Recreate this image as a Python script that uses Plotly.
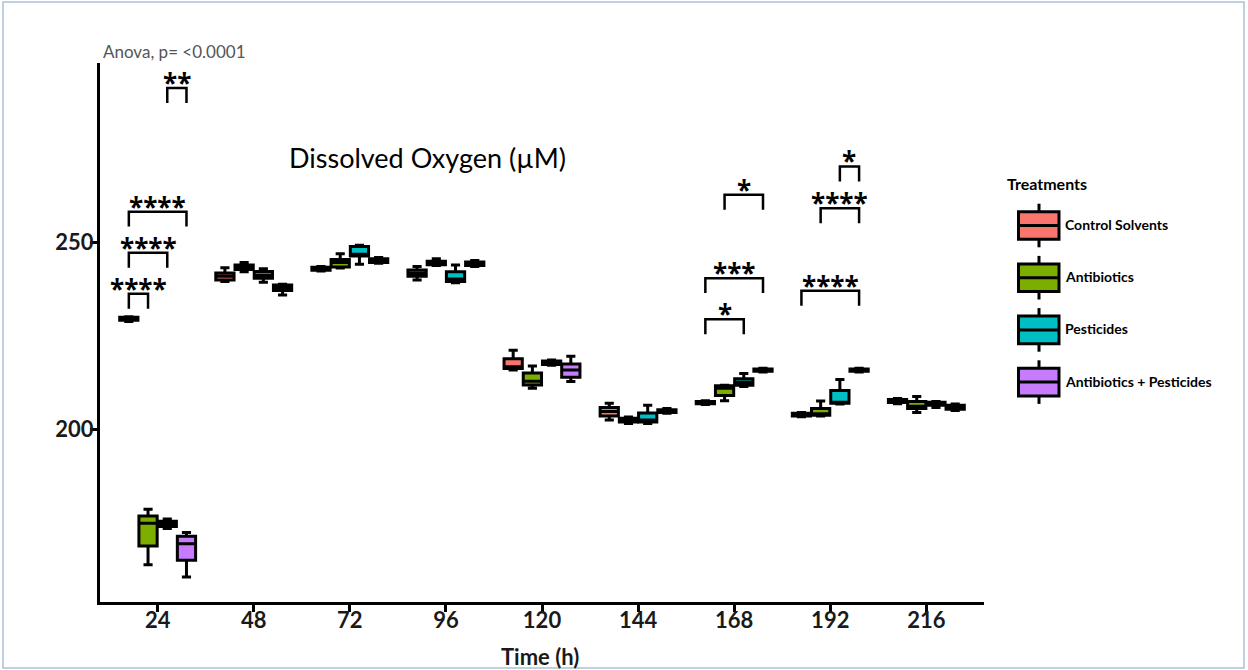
import plotly.graph_objects as go

# ---------------- data ----------------
times = ["24", "48", "72", "96", "120", "144", "168", "192", "216"]
treatments = ["Control Solvents", "Antibiotics", "Pesticides", "Antibiotics + Pesticides"]
colors = ["#F8766D", "#7CAE00", "#00BFC4", "#C77CFF"]

control_q1 = [229.2, 240.0, 242.6, 241.0, 216.3, 203.6, 206.9, 203.6, 207.2]
control_med = [229.6, 241.0, 243.0, 241.8, 216.8, 204.8, 207.2, 204.0, 207.6]
control_q3 = [230.0, 241.9, 243.4, 242.7, 218.9, 205.9, 207.5, 204.3, 208.0]
control_lo = [228.9, 239.6, 242.4, 240.0, 215.9, 202.5, 206.7, 203.4, 206.9]
control_hi = [230.2, 243.3, 243.6, 243.6, 221.2, 207.0, 207.7, 204.5, 208.3]

antib_q1 = [168.8, 242.8, 243.5, 244.1, 211.9, 202.0, 209.1, 203.8, 205.6]
antib_med = [174.9, 243.4, 244.7, 244.5, 212.9, 202.5, 211.0, 204.2, 206.2]
antib_q3 = [176.8, 244.0, 245.5, 245.0, 215.1, 203.0, 211.7, 205.6, 207.5]
antib_lo = [163.8, 242.2, 243.2, 243.9, 211.0, 201.6, 207.7, 203.6, 204.5]
antib_hi = [178.6, 244.7, 247.0, 245.7, 217.0, 203.3, 211.8, 207.6, 208.8]

pest_q1 = [174.0, 240.5, 246.4, 239.6, 217.4, 202.0, 211.8, 207.0, 206.5]
pest_med = [174.7, 241.3, 246.9, 240.3, 217.8, 202.5, 212.6, 207.3, 206.9]
pest_q3 = [175.4, 242.3, 249.0, 242.2, 218.3, 204.4, 213.6, 210.4, 207.3]
pest_lo = [173.5, 239.4, 244.2, 239.3, 217.2, 201.6, 211.5, 206.8, 205.9]
pest_hi = [176.0, 243.0, 249.3, 244.0, 218.6, 206.5, 215.0, 213.4, 207.5]

ap_q1 = [165.0, 237.2, 244.7, 243.9, 214.0, 204.5, 215.6, 215.6, 205.4]
ap_med = [169.4, 238.0, 245.2, 244.3, 215.9, 204.9, 215.9, 215.9, 206.0]
ap_q3 = [171.4, 238.7, 245.7, 244.8, 217.5, 205.3, 216.2, 216.2, 206.5]
ap_lo = [160.5, 236.0, 244.5, 243.6, 212.8, 204.3, 215.4, 215.4, 205.1]
ap_hi = [172.4, 238.9, 246.0, 245.2, 219.6, 205.6, 216.4, 216.4, 206.8]

# significance brackets: time index, from treatment, to treatment, height, label
bracket_time = [0, 0, 0, 0, 6, 6, 6, 7, 7, 7]
bracket_from = [0, 0, 0, 2, 0, 0, 1, 0, 1, 2]
bracket_to = [1, 2, 3, 3, 2, 3, 3, 3, 3, 3]
bracket_y = [236.3, 247.3, 258.3, 291.4, 229.5, 240.5, 262.8, 237.1, 259.2, 270.4]
bracket_label = ["****", "****", "****", "**", "*", "***", "*", "****", "****", "*"]

y_ticks = [200, 250]

# ---------------- figure ----------------
FONT = "Lato"
STAR_FONT = "Open Sans"
stats = [
    (control_q1, control_med, control_q3, control_lo, control_hi),
    (antib_q1, antib_med, antib_q3, antib_lo, antib_hi),
    (pest_q1, pest_med, pest_q3, pest_lo, pest_hi),
    (ap_q1, ap_med, ap_q3, ap_lo, ap_hi),
]
xpos = list(range(len(times)))

fig = go.Figure()
for name, col, (q1, med, q3, lo, hi) in zip(treatments, colors, stats):
    fig.add_trace(go.Box(
        name=name, x=xpos, q1=q1, median=med, q3=q3,
        lowerfence=lo, upperfence=hi,
        fillcolor=col, line=dict(color="black", width=3),
        showlegend=False, hoverinfo="skip",
    ))

GROUP = 0.8
n = len(treatments)
def offset(k):
    return (k - (n - 1) / 2) * GROUP / n

LEG = 4.0
bx, by = [], []
for t, a, b, yv, lab in zip(bracket_time, bracket_from, bracket_to, bracket_y, bracket_label):
    x1 = t + offset(a)
    x2 = t + offset(b)
    bx += [x1, x1, x2, x2, None]
    by += [yv - LEG, yv, yv, yv - LEG, None]
    fig.add_annotation(
        x=(x1 + x2) / 2, y=yv, xref="x", yref="y", text=lab,
        showarrow=False, yanchor="bottom", xanchor="center", yshift=-15,
        font=dict(family=STAR_FONT, size=26, color="black", weight="bold"),
    )
fig.add_trace(go.Scatter(x=bx, y=by, mode="lines", line=dict(color="black", width=2.5),
                         showlegend=False, hoverinfo="skip"))

fig.update_layout(
    width=1248, height=670,
    margin=dict(l=100, r=264, t=63, b=68, autoexpand=False),
    paper_bgcolor="white", plot_bgcolor="white",
    boxmode="group", boxgap=0.2, boxgroupgap=0.05,
    font=dict(family=FONT, color="black"),
    xaxis=dict(
        range=[-0.6, 8.6], tickmode="array", tickvals=xpos, ticktext=times,
        showline=True, linecolor="black", linewidth=3, ticks="outside",
        ticklen=7, tickwidth=3, tickcolor="black", showgrid=False, zeroline=False,
        tickfont=dict(family=FONT, size=22, color="#1a1a1a", weight="bold"),
        ticklabelstandoff=-10, automargin=False,
    ),
    yaxis=dict(
        range=[153.8, 298.1], tickmode="array", tickvals=y_ticks,
        showline=True, linecolor="black", linewidth=3, ticks="outside",
        ticklen=7, tickwidth=3, tickcolor="black", showgrid=False, zeroline=False,
        tickfont=dict(family=FONT, size=22, color="#1a1a1a", weight="bold"),
        ticklabelstandoff=-8, automargin=False,
    ),
)

PW, PH = 884.0, 539.0
def px(xp):
    return (xp - 100) / PW
def py(yp):
    return (602 - yp) / PH

# axis title, chart title & anova text
fig.add_annotation(x=px(540), y=py(657), xref="paper", yref="paper",
                   xanchor="center", yanchor="middle", text="Time (h)", showarrow=False,
                   font=dict(family=FONT, size=22, color="#1a1a1a", weight="bold"))
fig.add_annotation(x=px(427), y=py(157), xref="paper", yref="paper",
                   xanchor="center", yanchor="middle",
                   text="Dissolved Oxygen (µM)", showarrow=False,
                   font=dict(family=FONT, size=27, color="black"))
fig.add_annotation(x=px(101), y=py(52), xref="paper", yref="paper",
                   xanchor="left", yanchor="middle", text="Anova, p= <0.0001", showarrow=False,
                   font=dict(family=FONT, size=17, color="#555555"))

# custom legend
fig.add_annotation(x=px(1005), y=py(183), xref="paper", yref="paper",
                   xanchor="left", yanchor="middle",
                   text="Treatments", showarrow=False,
                   font=dict(family=FONT, size=16, color="black", weight="bold"))
for i, (name, col) in enumerate(zip(treatments, colors)):
    top = 211.7 + i * 52.2
    bot = top + 27.6
    mid = (top + bot) / 2
    fig.add_shape(type="line", xref="paper", yref="paper", x0=px(1039), x1=px(1039),
                  y0=py(top - 8), y1=py(bot + 8), line=dict(color="black", width=3))
    fig.add_shape(type="rect", xref="paper", yref="paper", x0=px(1018.5), x1=px(1059),
                  y0=py(top), y1=py(bot), fillcolor=col, line=dict(color="black", width=3))
    fig.add_shape(type="line", xref="paper", yref="paper", x0=px(1018.5), x1=px(1059),
                  y0=py(mid), y1=py(mid), line=dict(color="black", width=3))
    fig.add_annotation(x=px(1063), y=py(mid - 1), xref="paper", yref="paper",
                       xanchor="left", yanchor="middle",
                       text=name, showarrow=False,
                       font=dict(family=FONT, size=14, color="black", weight="bold"))

# thin frame around the figure
fig.add_shape(type="rect", xref="paper", yref="paper", x0=px(3), x1=px(1244), y0=py(668), y1=py(2),
              line=dict(color="#a9c1d9", width=1.5), layer="below")

fig.write_html("out.html", config={"displayModeBar": False},
               post_script="document.body.style.margin='0px';document.body.style.overflow='hidden';")
